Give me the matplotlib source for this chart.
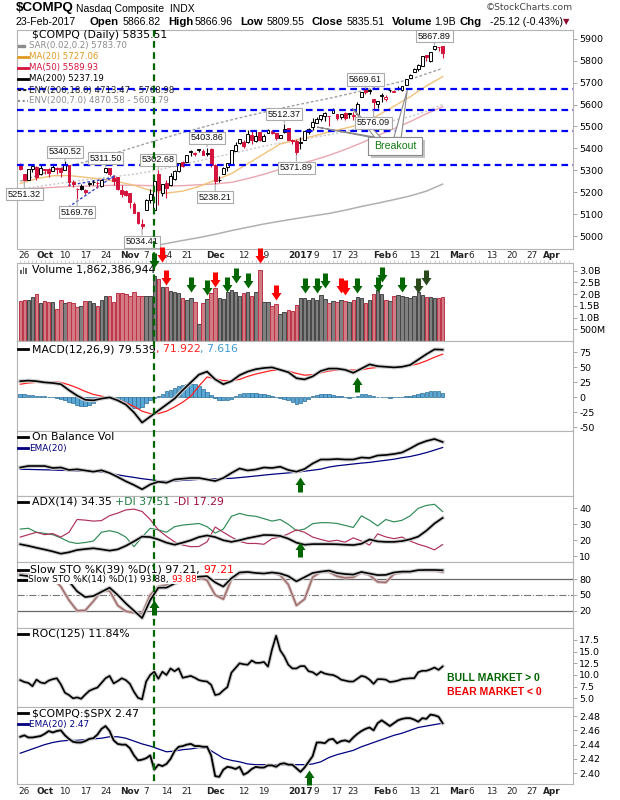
import numpy as np
import matplotlib
matplotlib.use('Agg')
import matplotlib.pyplot as plt
from matplotlib.path import Path
from matplotlib.lines import Line2D
from matplotlib.patches import Rectangle, Polygon
from matplotlib.text import Annotation
from matplotlib import transforms, patheffects

plt.rcParams['font.family'] = ['DejaVu Sans']
plt.rcParams['axes.unicode_minus'] = False
ARIAL = ['Liberation Sans', 'DejaVu Sans']

# ---------------- data ----------------
# trading day index 0 = 23-Sep-2016 ... 104 = 23-Feb-2017
tick_idx = [1, 6, 11, 16, 21, 27, 31, 36, 41, 48, 55, 60, 69, 73, 78, 82,
            89, 92, 97, 102, 108, 111, 116, 121, 126, 131]
tick_lab = ['26', 'Oct', '10', '17', '24', 'Nov', '7', '14', '21', 'Dec', '12', '19',
            '2017', '9', '17', '23', 'Feb', '6', '13', '21', 'Mar', '6', '13', '20',
            '27', 'Apr']
bold_labels = ['Oct', 'Nov', 'Dec', '2017', 'Feb', 'Mar', 'Apr']

prev_close = 5339.52
price_open = [5330, 5282, 5255, 5307, 5315, 5283, 5304, 5307, 5295, 5310,
              5310, 5301, 5323, 5247, 5213, 5229, 5211, 5238, 5245, 5240,
              5228, 5290, 5309, 5266, 5268, 5209, 5205, 5196, 5148, 5110,
              5055, 5118, 5164, 5121, 5283, 5195, 5244, 5232, 5259, 5299,
              5338, 5337, 5385, 5374, 5392, 5386, 5375, 5398, 5323, 5257,
              5285, 5315, 5330, 5390, 5425, 5430, 5427, 5460, 5432, 5473,
              5434, 5469, 5481, 5468, 5448, 5473, 5491, 5440, 5432, 5425,
              5440, 5475, 5497, 5517, 5532, 5547, 5547, 5561, 5559, 5544,
              5562, 5561, 5547, 5559, 5633, 5666, 5665, 5625, 5601, 5641,
              5623, 5665, 5658, 5672, 5667, 5690, 5722, 5749, 5761, 5775,
              5826, 5798, 5852, 5861, 5867]
price_high = [5335, 5285, 5306, 5319, 5320, 5322, 5307, 5312, 5325, 5313,
              5313, 5340.52, 5323, 5258, 5218, 5236, 5214, 5247, 5256, 5250,
              5258, 5311.50, 5310, 5278, 5270, 5232, 5209, 5197, 5154, 5112,
              5080, 5170, 5213, 5261, 5302.68, 5237, 5258, 5287, 5300, 5335,
              5344, 5370, 5391, 5385, 5399, 5395, 5403.86, 5402, 5327, 5272,
              5313, 5334, 5394, 5428, 5445, 5436, 5486, 5478, 5481, 5475,
              5467, 5487, 5485, 5470, 5463, 5512.37, 5495, 5443, 5441, 5452,
              5482, 5495, 5537, 5541, 5553, 5565, 5548, 5582, 5559, 5556,
              5566, 5563, 5567, 5610, 5657, 5669.61, 5669, 5626, 5615, 5651,
              5643, 5667, 5666, 5683, 5684, 5717, 5738, 5766, 5783, 5820,
              5828, 5839, 5867.89, 5864, 5867]
price_low = [5302, 5251.32, 5254, 5290, 5255, 5280, 5281, 5270, 5295, 5282,
             5270, 5300, 5227, 5225, 5169.76, 5210, 5193, 5230, 5235, 5219,
             5225, 5287, 5274, 5235, 5209, 5179, 5185, 5126, 5104, 5053,
             5034.41, 5118, 5153, 5104, 5143, 5184, 5173, 5228, 5258, 5294,
             5315, 5337, 5364, 5366, 5384, 5368, 5367, 5313, 5238.21, 5245,
             5283, 5295, 5325, 5390, 5420, 5404, 5426, 5418, 5430, 5433,
             5433, 5469, 5466, 5438, 5446, 5472, 5436, 5421, 5371.89, 5397,
             5440, 5464, 5483, 5517, 5527, 5523, 5503, 5560, 5531, 5533,
             5531, 5540, 5528, 5559, 5633, 5646, 5648, 5576.09, 5582, 5610,
             5616, 5656, 5655, 5667, 5663, 5688, 5722, 5749, 5755, 5775,
             5797, 5796, 5850, 5846, 5810]
price_close = [5305.75, 5257.49, 5305.71, 5318.55, 5269.15, 5312.00, 5300.87, 5289.66, 5316.02, 5306.85,
               5292.40, 5328.67, 5246.79, 5239.02, 5213.33, 5214.16, 5199.82, 5243.84, 5246.41, 5241.83,
               5257.40, 5309.83, 5283.40, 5250.27, 5215.97, 5190.10, 5189.13, 5153.58, 5105.57, 5058.41,
               5046.37, 5166.17, 5193.49, 5251.07, 5208.80, 5237.11, 5218.40, 5275.62, 5294.58, 5333.97,
               5321.51, 5368.86, 5386.35, 5380.68, 5398.92, 5368.81, 5379.92, 5323.68, 5251.11, 5255.65,
               5308.89, 5333.00, 5393.76, 5417.36, 5444.50, 5412.54, 5463.83, 5436.67, 5456.85, 5437.16,
               5457.44, 5483.94, 5471.43, 5447.42, 5462.69, 5487.44, 5438.56, 5432.09, 5383.12, 5429.08,
               5477.00, 5487.94, 5521.06, 5531.82, 5551.82, 5563.65, 5547.49, 5574.12, 5538.73, 5555.65,
               5540.08, 5555.33, 5552.94, 5600.96, 5656.34, 5655.18, 5660.78, 5613.71, 5614.79, 5642.65,
               5636.20, 5666.77, 5663.55, 5674.22, 5682.45, 5715.18, 5734.13, 5763.96, 5782.57, 5819.44,
               5814.90, 5838.58, 5865.95, 5860.63, 5835.51]
volume_b = [1.71, 1.73, 1.75, 1.88, 2.02, 1.60, 1.71, 1.66, 1.66, 1.38,
            1.75, 1.60, 1.66, 1.63, 1.43, 1.51, 1.71, 1.71, 1.63, 1.51,
            1.75, 1.91, 1.91, 1.68, 2.05, 2.05, 2.02, 1.91, 2.08, 1.91,
            1.91, 1.91, 1.91, 2.76, 2.66, 2.31, 2.28, 2.14, 2.08, 2.05,
            1.81, 1.74, 1.85, 1.67, 0.74, 1.62, 1.77, 2.05, 2.24, 1.81,
            1.80, 2.08, 2.16, 2.08, 1.91, 2.05, 2.08, 1.91, 2.08, 3.02,
            1.66, 1.66, 1.48, 1.57, 1.17, 1.24, 1.31, 1.28, 1.52, 1.85,
            1.85, 1.76, 1.85, 1.76, 1.95, 1.77, 1.60, 1.72, 1.65, 1.75,
            1.70, 1.64, 1.75, 1.88, 1.82, 1.62, 1.76, 2.02, 2.19, 2.02,
            1.76, 1.71, 1.91, 1.95, 1.91, 1.87, 1.83, 1.91, 2.07, 1.95,
            1.88, 1.88, 1.85, 1.85, 1.86]

# overlays, one value every 4th trading day
ma20 = [5240, 5262, 5275, 5276, 5268, 5260, 5248, 5232, 5208, 5196, 5205, 5226, 5255, 5285,
        5330, 5375, 5420, 5438, 5455, 5475, 5492, 5510, 5550, 5592, 5635, 5685, 5727]
ma50 = [5215, 5218, 5222, 5226, 5228, 5230, 5232, 5232, 5230, 5228, 5230, 5234, 5238, 5245,
        5262, 5282, 5305, 5325, 5345, 5368, 5395, 5425, 5458, 5490, 5522, 5558, 5590]
ma200 = [4870, 4882, 4893, 4903, 4912, 4920, 4928, 4940, 4952, 4966, 4980, 4993, 5008, 5025,
         5040, 5055, 5068, 5080, 5092, 5103, 5118, 5135, 5150, 5166, 5183, 5205, 5237]
env_outer = [5250, 5275, 5300, 5320, 5338, 5360, 5382, 5405, 5428, 5450, 5472, 5492, 5512, 5530,
             5548, 5565, 5582, 5598, 5613, 5628, 5645, 5662, 5680, 5697, 5715, 5740, 5765]
env_inner = [5215, 5225, 5236, 5246, 5256, 5265, 5273, 5282, 5295, 5310, 5328, 5343, 5360, 5376,
             5393, 5410, 5424, 5437, 5450, 5462, 5478, 5494, 5511, 5528, 5545, 5570, 5600]
support_levels = [5669, 5573, 5481, 5326]
trend_x = [11.8, 23.3]
trend_a = [5231, 5268]
trend_b = [5131, 5277]

peak_idx = [1, 11, 14, 21, 30, 34, 46, 48, 65, 68, 85, 87, 102]
peak_val = [5251.32, 5340.52, 5169.76, 5311.50, 5034.41, 5302.68, 5403.86, 5238.21,
            5512.37, 5371.89, 5669.61, 5576.09, 5867.89]
peak_side = ['lo', 'hi', 'lo', 'hi', 'lo', 'hi', 'hi', 'lo', 'hi', 'lo', 'hi', 'lo', 'hi']

breakout_targets_x = [73.1, 81.7, 95.3]
breakout_targets_y = [5497, 5584, 5666]

vol_arrow_idx = [33, 35, 36, 42, 46, 48, 51, 53, 56, 59, 63, 70, 73, 75, 79, 80, 83, 88, 89, 94, 98, 100]
vol_arrow_tip = [3.10, 3.36, 2.38, 2.08, 1.95, 2.29, 2.08, 2.47, 2.25, 3.32, 1.74, 2.04, 2.04,
                 2.25, 2.04, 1.95, 2.04, 2.08, 2.51, 2.08, 2.04, 2.38]
vol_arrow_kind = ['g', 'r', 'r', 'g', 'g', 'r', 'g', 'g', 'g', 'r', 'r', 'g', 'g', 'g', 'r', 'r',
                  'g', 'g', 'g', 'g', 'd', 'd']

# indicators, one value every 2nd trading day
macd_line = [27, 28, 27, 25, 24, 22, 12, 3, -4, -5, -2, 0, -5, -12, -25, -42, -32, -22, -12, -2,
             12, 25, 38, 43, 30, 22, 27, 37, 43, 47, 49, 50, 46, 42, 32, 30, 35, 44, 48, 48,
             46, 41, 48, 55, 52, 51, 50, 51, 54, 63, 72, 80, 79.5]
macd_signal = [22, 24, 25, 26, 26, 25, 21, 16, 10, 5, 2, 0, -3, -9, -15, -23, -27, -27, -23, -16,
               -8, 2, 19, 34, 31, 28, 28, 30, 35, 39, 42, 45, 45.5, 44, 40, 37, 38, 41, 44, 45.5,
               46, 45.5, 46, 48.5, 50, 50.5, 51, 51, 53, 56, 61, 67, 72]
macd_hist = [5, 5, 4, 4, 3, 3, 2, 1, 0, -1, -2, -4, -7, -10, -12, -14, -14, -12, -9, -5,
             -2, 1, 1, -2, -4, -7, -11, -15, -17, -18, -16, -10, -5, -1, 3, 6, 10, 13, 16, 19,
             21, 23, 23, 22, 19, 14, 9, 4, -1, -4, -5, -4, -2, 2, 5, 7, 8, 8, 7, 6,
             5, 4, 3, 1, -1, -3, -5, -8, -11, -10, -6, -2, 2, 4, 5, 5, 5, 4, 3, 2,
             1, -1, 1, 3, 5, 5, 4, 2, 1, 0, 0, -1, 0, 1, 1, 2, 3, 4, 6, 8,
             9, 10, 11, 10, 7.6]
obv = [32.5, 34, 34, 34, 32, 32.5, 30, 30.7, 29.5, 28.3, 29.7, 27, 23, 18.7, 15, 10.7, 15.5, 18.3,
       17.3, 20.5, 21.3, 22, 22, 20.5, 19, 22, 27, 31.5, 29.5, 30.5, 32.5, 32, 33.3, 30, 28.3, 31,
       36.5, 40.5, 40.5, 41, 40.5, 40.5, 42.5, 42, 44.5, 45, 46, 47.5, 51.5, 56, 59, 61, 58]
obv_ema = [30.7, 30.6, 30.4, 30.2, 30, 29.7, 29.4, 29.1, 28.8, 28.5, 28, 26.8, 25.2, 23.8, 22.6,
           21.3, 20.3, 19.3, 18.5, 19, 19.6, 20.1, 20.6, 21, 21.2, 21.4, 21.7, 22.4, 23.2, 24,
           24.9, 25.7, 26.4, 27.1, 27.7, 28.8, 29.8, 30.9, 32.9, 34.2, 35.1, 36, 36.9, 37.6, 38.7,
           39.7, 40.8, 42.3, 43.5, 45.3, 47.4, 49.9, 52.5]
adx = [17.5, 16.5, 15.3, 14.2, 13, 11.6, 12.5, 13.9, 14.5, 15, 14.3, 13.5, 14.3, 16.5, 19.3, 22.3,
       22, 20.5, 18.5, 17.2, 18.5, 20, 22, 23, 22, 20, 19, 20, 21.3, 22.3, 23.3, 23.2, 22.7, 21,
       18.5, 17.2, 17.6, 17.6, 17.6, 17.5, 17.2, 17, 17.8, 20.5, 19.3, 19, 19, 19.5, 20.6, 22.3,
       26, 30.5, 34]
plus_di = [27, 27.5, 25, 24.3, 23.5, 21.5, 19, 18, 18.6, 19.5, 25, 26, 24.8, 22, 16, 22, 27.5,
           26.5, 25, 28.5, 29.5, 30, 30.5, 28.5, 24.5, 27, 35, 36.8, 35.5, 35, 33.5, 32, 33, 30,
           26, 27, 30.4, 31, 31, 30.5, 29.3, 28, 35.3, 32.5, 29, 33, 31.5, 32.5, 35.3, 40, 41.8,
           42.5, 38]
minus_di = [22, 23.5, 25, 23.5, 24.2, 22, 25, 33, 32.6, 32, 32.3, 35.4, 37, 39, 39.5, 38, 33,
            26.5, 22.5, 19, 17, 16, 16.1, 19, 28.3, 25, 22, 19.3, 18, 18, 17.5, 21, 22, 24, 26.5,
            25, 22, 20.5, 19.3, 20, 18.8, 21.5, 19.5, 17, 24, 22.1, 21, 22, 19.5, 17.5, 16, 14,
            17.3]
sto_k39 = [88, 86, 88, 87, 86, 84, 76, 57, 46, 48, 56, 64, 50, 34, 20, 6, 40, 64, 64, 72, 78, 82,
           85, 86, 74, 66, 82, 93, 94, 92, 91, 93, 91, 86, 76, 84, 92, 94.6, 96.5, 92, 90, 89, 94,
           91, 88, 88.3, 93, 94.6, 94.6, 97.5, 97.8, 97.8, 97.2]
sto_k14 = [90, 88, 90, 88, 82, 66, 40, 20, 20.5, 38, 58, 58, 30, 19, 16, 14, 50, 66, 69, 72, 78,
           82, 84, 78, 50, 42, 80, 91, 93, 92, 91, 93, 88, 70, 30, 42, 84, 94, 94, 86, 82.6, 84,
           93, 88, 75, 74, 90, 93, 94, 96.5, 96.5, 96.5, 93.9]
roc125 = [8.9, 8.5, 8.3, 7.6, 9.0, 8.4, 8.2, 8.8, 9.1, 9.3,
          8.0, 6.2, 5.7, 5.0, 5.2, 4.9, 5.8, 6.6, 7.0, 7.3,
          8.3, 9.3, 9.8, 8.2, 8.7, 9.3, 8.9, 8.1, 6.4, 5.1,
          4.8, 8.6, 10.0, 10.7, 9.2, 10.7, 10.0, 11.4, 10.8, 11.4,
          9.4, 9.6, 9.8, 9.4, 8.9, 8.7, 8.6, 7.9, 5.7, 5.9,
          6.7, 7.4, 10.5, 11.5, 12.5, 12.3, 12.2, 13.1, 12.6, 12.6,
          12.8, 11.8, 15.5, 18.4, 15.3, 14.0, 12.2, 11.4, 11.4, 11.9,
          11.9, 10.8, 10.6, 10.0, 10.7, 10.3, 10.1, 10.0, 9.6, 9.0,
          8.8, 8.6, 8.6, 9.2, 9.8, 9.6, 9.0, 8.1, 9.1, 9.1,
          9.0, 8.5, 8.6, 8.8, 9.1, 9.2, 9.3, 9.3, 10.6, 10.9,
          10.9, 11.2, 11.6, 11.1, 11.84]
ratio_spx = [2.451, 2.453, 2.450, 2.450, 2.451, 2.452, 2.455, 2.459, 2.457, 2.459,
             2.460, 2.453, 2.448, 2.444, 2.443, 2.443, 2.445, 2.448, 2.449, 2.454,
             2.462, 2.466, 2.459, 2.446, 2.441, 2.440, 2.440, 2.435, 2.425, 2.418,
             2.419, 2.421, 2.425, 2.405, 2.412, 2.410, 2.413, 2.420, 2.431, 2.437,
             2.438, 2.440, 2.441, 2.438, 2.438, 2.437, 2.437, 2.425, 2.396, 2.395,
             2.405, 2.409, 2.408, 2.406, 2.409, 2.398, 2.401, 2.406, 2.409, 2.408,
             2.408, 2.411, 2.411, 2.409, 2.413, 2.414, 2.412, 2.412, 2.407, 2.402,
             2.408, 2.416, 2.424, 2.443, 2.443, 2.442, 2.447, 2.448, 2.442, 2.445,
             2.446, 2.444, 2.450, 2.455, 2.459, 2.462, 2.464, 2.460, 2.470, 2.474,
             2.470, 2.466, 2.470, 2.474, 2.476, 2.477, 2.477, 2.475, 2.472, 2.477,
             2.476, 2.482, 2.481, 2.479, 2.470]
ratio_ema = [2.428, 2.432, 2.436, 2.440, 2.443, 2.445, 2.446, 2.446, 2.447, 2.448, 2.449, 2.451,
             2.451, 2.449, 2.445, 2.441, 2.438, 2.434, 2.430, 2.431, 2.433, 2.434, 2.436, 2.435,
             2.428, 2.421, 2.418, 2.416, 2.413, 2.412, 2.412, 2.412, 2.412, 2.412, 2.412, 2.412,
             2.413, 2.416, 2.422, 2.426, 2.429, 2.432, 2.437, 2.441, 2.445, 2.449, 2.453, 2.456,
             2.460, 2.464, 2.466, 2.468, 2.470]

signal_day = 33   # green dashed vertical marker

# ---------------- figure helpers ----------------
W, H = 620, 800
fig = plt.figure(figsize=(6.2, 8.0), dpi=100)
fig.patch.set_facecolor('white')

days = np.arange(len(price_close))
idx2 = np.arange(0, 105, 2)
idx4 = np.arange(0, 105, 4)

RED = '#d4143c'
GREEN = '#006400'
shadow = [patheffects.withStroke(linewidth=2.8, foreground='#cccccc')]


def fx(x):
    return x / W


def fy(y):
    return 1 - y / H


def panel(top, bottom):
    ax = fig.add_axes([fx(17), fy(bottom), 556 / W, (bottom - top) / H])
    ax.set_xlim(-0.8, 136.1)
    for s in ax.spines.values():
        s.set_color('#b4b4b4')
        s.set_linewidth(0.8)
    ax.tick_params(axis='x', bottom=False, labelbottom=False)
    ax.yaxis.tick_right()
    ax.tick_params(axis='y', right=True, left=False, length=3, width=0.6,
                   color='#999999', labelsize=6.8, pad=1.5)
    return ax


def legend(x, y, pieces, size, bg=False):
    prev = None
    for text, color in pieces:
        kw = dict(color=color, fontsize=size, va='center', ha='left', zorder=8)
        if bg:
            kw['bbox'] = dict(fc='white', ec='none', pad=0.0)
        if prev is None:
            t = fig.text(fx(x), fy(y), text, **kw)
        else:
            t = Annotation(text, xy=(1, 0.5), xycoords=prev, **kw)
            fig.add_artist(t)
        prev = t


def key_line(y, color, style='-', lw=2.0):
    fig.add_artist(Line2D([fx(18), fx(28)], [fy(y), fy(y)], color=color, lw=lw, ls=style))


def arrow_path(up):
    s = -1 if up else 1
    v = [(0, 0), (0.5, 0.75 * s), (0.25, 0.75 * s), (0.25, 1.5 * s), (-0.25, 1.5 * s),
         (-0.25, 0.75 * s), (-0.5, 0.75 * s), (0, 0)]
    return Path(v, [Path.MOVETO] + [Path.LINETO] * 6 + [Path.CLOSEPOLY])


DOWN = arrow_path(False)
UP = arrow_path(True)


def arrows(ax, xs, ys, marker, color):
    ax.plot(xs, ys, ls='none', marker=marker, ms=21.6, color=color,
            mew=0, clip_on=False, zorder=7)


# ---------------- main price panel ----------------
ax = panel(30, 249)
ax.set_ylim(4941, 5940)
ax.set_yticks(range(5000, 5901, 100))

o = np.array(price_open)
c = np.array(price_close)
hi = np.array(price_high)
lo = np.array(price_low)
prev = np.concatenate([[prev_close], c[:-1]])
col = np.where(c >= prev, '#000000', RED)
face = np.where(c >= o, 'white', col)

ax.plot(idx4, env_outer, color='#a0a0a0', lw=1.0, ls=(0, (2, 1.5)), zorder=2)
ax.plot(idx4, env_inner, color='#c8c8c8', lw=1.0, ls=(0, (1.5, 1.5)), zorder=2)
ax.plot(idx4, ma200, color='#b0b0b0', lw=1.1, zorder=2)
ax.plot(idx4, ma50, color='#eaa7b0', lw=1.0, zorder=2)
ax.plot(idx4, ma20, color='#f2c27a', lw=1.0, zorder=2)
ax.plot(trend_x, trend_a, color='#3344cc', lw=1.0, ls=(0, (2, 1.5)), zorder=2)
ax.plot(trend_x, trend_b, color='#3344cc', lw=1.0, ls=(0, (2, 1.5)), zorder=2)

ax.vlines(days, lo, hi, colors=col, lw=0.8, zorder=3)
ax.bar(days, np.maximum(np.abs(c - o), 1.5), bottom=np.minimum(o, c), width=0.72,
       color=face, edgecolor=col, linewidth=0.7, zorder=4)

for lvl in support_levels:
    ax.axhline(lvl, color='#0000ff', lw=1.6, ls=(0, (3, 2)), zorder=5)

for i, v, side in zip(peak_idx, peak_val, peak_side):
    dy = 7.0 if side == 'hi' else -9.5
    ax.annotate(f'{v:.2f}', xy=(i, v), xytext=(0, dy), textcoords='offset points',
                ha='center', va='center', fontsize=6.6, family=ARIAL, color='#111111', zorder=7,
                bbox=dict(boxstyle='square,pad=0.18', fc='white', ec='#aaaaaa', lw=0.8),
                arrowprops=dict(arrowstyle='-', color='#aaaaaa', lw=0.8, shrinkA=0, shrinkB=0.5))

# "Breakout" callout
bases = [(86.4, 87.9), (87.3, 88.8), (92.0, 93.8)]
for (b0, b1), tx, ty in zip(bases, breakout_targets_x, breakout_targets_y):
    ax.add_patch(Polygon([(b0, 5450), (b1, 5450), (tx, ty)], closed=True,
                         fc='white', ec='#8a8a8a', lw=0.8, zorder=6))
ax.add_patch(Rectangle((86.3, 5354), 13.3, 82, fc='#c4c4c4', ec='none', zorder=6.5))
ax.add_patch(Rectangle((85.7, 5369), 13.3, 82, fc='white', ec='#8a8a8a', lw=0.8, zorder=7))
ax.text(92.35, 5410, 'Breakout', color='#127a12', fontsize=7.6, family=ARIAL,
        ha='center', va='center', zorder=8)

# ---------------- volume ----------------
axv = panel(263, 341)
axv.set_ylim(0, 3.32)
axv.set_yticks([0.5, 1.0, 1.5, 2.0, 2.5, 3.0])
axv.set_yticklabels(['500M', '1.0B', '1.5B', '2.0B', '2.5B', '3.0B'])
axv.set_xticks(np.arange(0, 136))
axv.tick_params(axis='x', top=True, bottom=False, length=2, width=0.5, color='#c0c0c0',
                direction='out', labeltop=False, labelbottom=False)
vfill = np.where(c >= prev, '#808080', '#d27b84')
vedge = np.where(c >= prev, '#474747', '#bb3447')
axv.bar(days, volume_b, width=0.86, color=vfill, edgecolor=vedge, linewidth=0.7, zorder=2)
kind_color = {'g': '#006600', 'r': '#ff0000', 'd': '#2b4a1c'}
for i, t, k in zip(vol_arrow_idx, vol_arrow_tip, vol_arrow_kind):
    arrows(axv, [i], [t], DOWN, kind_color[k])

# ---------------- MACD ----------------
axm = panel(341, 431)
axm.set_ylim(-56, 94)
axm.set_yticks([-50, -25, 0, 25, 50, 75])
axm.bar(days, macd_hist, width=0.9, color='#5aa8d6', edgecolor='#2b6c98', linewidth=0.5, zorder=2)
axm.plot(idx2, macd_signal, color='#ff2020', lw=0.9, zorder=3)
axm.plot(idx2, macd_line, color='black', lw=1.2, zorder=4, path_effects=shadow)
arrows(axm, [83], [33.8], UP, '#006600')

# ---------------- On Balance Volume ----------------
axo = panel(431, 496)
axo.set_ylim(4, 69)
axo.set_yticks([])
axo.plot(idx2, obv_ema, color='#000080', lw=0.9, zorder=3)
axo.plot(idx2, obv, color='black', lw=1.2, zorder=4, path_effects=shadow)
arrows(axo, [69], [23], UP, '#006600')

# ---------------- ADX ----------------
axa = panel(496, 562)
axa.set_ylim(6.4, 47.7)
axa.set_yticks([10, 20, 30, 40])
axa.plot(idx2, plus_di, color='#2e8b57', lw=0.85, zorder=3)
axa.plot(idx2, minus_di, color='#b0305a', lw=0.85, zorder=3)
axa.plot(idx2, adx, color='black', lw=1.2, zorder=4, path_effects=shadow)
arrows(axa, [69], [18.9], UP, '#006600')

# ---------------- Slow stochastics ----------------
axs = panel(562, 628)
axs.set_ylim(-13, 113)
axs.set_yticks([20, 50, 80])
axs.axhline(80, color='#666666', lw=0.9, zorder=1)
axs.axhline(20, color='#666666', lw=0.9, zorder=1)
axs.axhline(50, color='#777777', lw=0.8, ls='-.', zorder=1)
axs.plot(idx2, sto_k14, color='#a07070', lw=1.1, zorder=3,
         path_effects=[patheffects.withStroke(linewidth=2.4, foreground='#d9c4c4')])
axs.plot(idx2, sto_k39, color='black', lw=1.2, zorder=4, path_effects=shadow)
arrows(axs, [33], [40.4], UP, '#006600')

# ---------------- ROC ----------------
axr = panel(628, 707)
axr.set_ylim(3.14, 20.07)
axr.set_yticks([5, 7.5, 10, 12.5, 15, 17.5])
axr.set_yticklabels(['5.0', '7.5', '10.0', '12.5', '15.0', '17.5'])
axr.plot(days, roc125, color='black', lw=1.2, zorder=4, path_effects=shadow)
fig.text(fx(447), fy(678), 'BULL MARKET > 0', color='#006400', fontsize=7.5,
         fontweight='bold', family=ARIAL, va='center')
fig.text(fx(447), fy(692), 'BEAR MARKET < 0', color='#ee0000', fontsize=7.5,
         fontweight='bold', family=ARIAL, va='center')

# ---------------- $COMPQ:$SPX ----------------
axq = panel(707, 784)
axq.set_ylim(2.385, 2.4926)
axq.set_yticks([2.40, 2.42, 2.44, 2.46, 2.48])
axq.set_yticklabels(['2.40', '2.42', '2.44', '2.46', '2.48'])
axq.plot(idx2, ratio_ema, color='#000080', lw=0.9, zorder=3)
axq.plot(days, ratio_spx, color='black', lw=1.3, zorder=4, path_effects=shadow)
arrows(axq, [71], [2.4045], UP, '#006600')

# ---------------- date labels ----------------
trans = transforms.blended_transform_factory(ax.transData, fig.transFigure)
for ypx in (256, 791):
    for i, lab in zip(tick_idx, tick_lab):
        ax.text(i, fy(ypx), lab, transform=trans, ha='center', va='center', fontsize=6.4,
                fontweight='bold' if lab in bold_labels else 'normal', color='#222222')

fig.add_artist(Line2D([signal_day, signal_day], [fy(30), fy(784)], transform=trans,
                      color=GREEN, lw=1.6, ls=(0, (3, 2)), zorder=10))

# ---------------- header ----------------
fig.text(fx(16), fy(8), r'\$COMPQ', fontsize=9.6, fontweight='bold', family=ARIAL, va='center')
fig.text(fx(76), fy(8.5), 'Nasdaq Composite  INDX', fontsize=7.5, family=ARIAL, va='center')
fig.text(fx(573), fy(8), '\u00a9StockCharts.com', fontsize=6.6, color='#444444',
         ha='right', va='center')
header = [(16, '23-Feb-2017', False), (90, 'Open', True), (123, '5866.82', False),
          (168, 'High', True), (195, '5866.96', False), (240, 'Low', True),
          (267, '5809.55', False), (312, 'Close', True), (347, '5835.51', False),
          (392, 'Volume', True), (434, '1.9B', False), (459, 'Chg', True),
          (490, '-25.12 (-0.43%)', False)]
for xp, txt, bold in header:
    fig.text(fx(xp), fy(22), txt, fontsize=8.2 if bold else 7.6, family=ARIAL,
             fontweight='bold' if bold else 'normal', va='center')
fig.text(fx(563), fy(22), '\u25bc', fontsize=6, color='#8b1030', va='center')

# ---------------- panel legends ----------------
legend(32, 35, [(r'\$COMPQ (Daily) 5835.51', 'black')], 7.8)
overlay_rows = [(45.5, 'SAR(0.02,0.2) 5783.70', '#8c8c8c'), (56.5, 'MA(20) 5727.06', '#e09a20'),
                (67.5, 'MA(50) 5589.93', RED), (79, 'MA(200) 5237.19', 'black'),
                (90, 'ENV(200,18.0) 4713.47 - 5768.98', '#222222'),
                (101, 'ENV(200,7.0) 4870.58 - 5603.79', '#8c8c8c')]
for yp, txt, colr in overlay_rows:
    legend(29, yp, [(txt, colr)], 6.2)
fig.add_artist(Line2D([fx(18.5), fx(21.5), fx(24.5)], [fy(45.5)] * 3, ls='none', marker='s',
                      ms=2, color='#8c8c8c'))
key_line(56.5, '#e09a20')
key_line(67.5, RED)
key_line(79, 'black')
key_line(90, '#222222', style=(0, (1.5, 1)), lw=1.5)
key_line(101, '#8c8c8c', style=(0, (1, 1.2)), lw=1.5)

for k, h in enumerate([4, 7, 6]):
    fig.add_artist(Rectangle((fx(20 + 2.6 * k), fy(274)), 1.8 / W, h / H,
                             fc='#666666', ec='none'))
legend(32, 270, [('Volume 1,862,386,944', 'black')], 7.8)

key_line(349, 'black')
legend(32, 349, [('MACD(12,26,9) 79.539', 'black'), (', 71.922', '#ff2020'),
                 (', 7.616', '#3d9bd0')], 7.8)

key_line(437, 'black')
legend(32, 437, [('On Balance Vol', 'black')], 7.8)
key_line(448, '#000080')
legend(29, 448, [('EMA(20)', '#000080')], 6.4)

key_line(502, 'black')
legend(32, 502, [('ADX(14) 34.35 ', 'black'), ('+DI 37.51 ', '#207a40'),
                 ('-DI 17.29', '#a01040')], 7.8)

legend(30, 570, [('Slow STO %K(39) %D(1) 97.21, ', 'black'), ('97.21', '#ff0000')], 7.8, bg=True)
legend(28, 579.5, [('Slow STO %K(14) %D(1) 93.88, ', 'black'), ('93.88', '#ff0000')], 6.5, bg=True)
key_line(570, 'black')
key_line(579.5, 'black')

key_line(634, 'black')
legend(32, 634, [('ROC(125) 11.84%', 'black')], 7.8)

key_line(713, 'black')
legend(32, 713, [(r'\$COMPQ:\$SPX 2.47', 'black')], 7.8)
key_line(724, '#000080')
legend(29, 724, [('EMA(20) 2.47', '#000080')], 6.4)

fig.savefig('out.png', dpi=100, facecolor='white')
